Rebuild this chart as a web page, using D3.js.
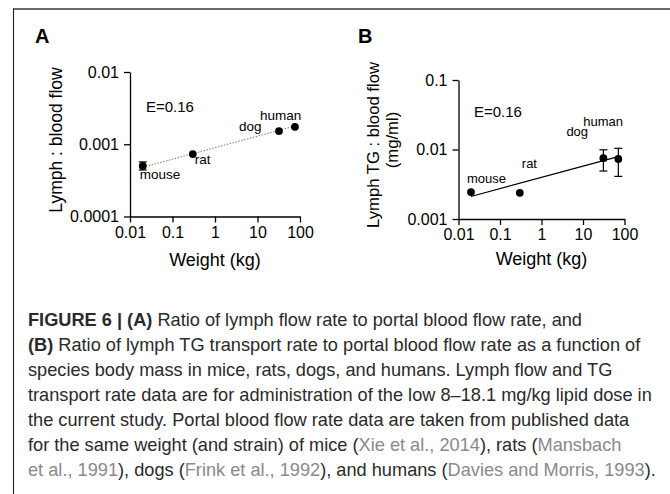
<!DOCTYPE html>
<html>
<head>
<meta charset="utf-8">
<script src="https://cdn.jsdelivr.net/npm/d3@7"></script>
<style>
  html, body { margin: 0; padding: 0; background: #fff; }
  svg { display: block; }
  text { font-family: "Liberation Sans", Arial, Helvetica, sans-serif; }
</style>
</head>
<body>
<svg id="chart" width="670" height="494"></svg>
<script>
// ---------- data ----------
const species = ["mouse", "rat", "dog", "human"];
const xTickValues = [0.01, 0.1, 1, 10, 100];
const xTickLabels = ["0.01", "0.1", "1", "10", "100"];

// Panel A
const weightA = [0.02, 0.3, 32, 76];
const ratioA = [0.0005, 0.00073, 0.00152, 0.00174];
const errLowA = [0.00044, null, null, null];
const errHighA = [0.00057, null, null, null];
const fitXA = [0.02, 76];
const fitYA = [0.00048, 0.00179];
const yTickValuesA = [0.0001, 0.001, 0.01];
const yTickLabelsA = ["0.0001", "0.001", "0.01"];

// Panel B
const weightB = [0.02, 0.3, 31, 71];
const ratioB = [0.00244, 0.00238, 0.0075, 0.0073];
const errLowB = [null, null, 0.0049, 0.0041];
const errHighB = [null, null, 0.0099, 0.0104];
const fitXB = [0.02, 71];
const fitYB = [0.00211, 0.0079];
const yTickValuesB = [0.001, 0.01, 0.1];
const yTickLabelsB = ["0.001", "0.01", "0.1"];

const exponentText = "E=0.16";

const captionLines = [
  [["FIGURE 6 | (A)", "b"], [" Ratio of lymph flow rate to portal blood flow rate, and", "n"]],
  [["(B)", "b"], [" Ratio of lymph TG transport rate to portal blood flow rate as a function of", "n"]],
  [["species body mass in mice, rats, dogs, and humans. Lymph flow and TG", "n"]],
  [["transport rate data are for administration of the low 8\u201318.1 mg/kg lipid dose in", "n"]],
  [["the current study. Portal blood flow rate data are taken from published data", "n"]],
  [["for the same weight (and strain) of mice (", "n"], ["Xie et al., 2014", "c"], ["), rats (", "n"], ["Mansbach", "c"]],
  [["et al., 1991", "c"], ["), dogs (", "n"], ["Frink et al., 1992", "c"], ["), and humans (", "n"], ["Davies and Morris, 1993", "c"], ([").", "n"])]
];

// ---------- drawing ----------
const svg = d3.select("#chart");

// frame
svg.append("line").attr("x1", 13).attr("x2", 670).attr("y1", 9).attr("y2", 9)
  .attr("stroke", "#3a3a3a").attr("stroke-width", 1.6);
svg.append("line").attr("x1", 13.5).attr("x2", 13.5).attr("y1", 8.5).attr("y2", 494)
  .attr("stroke", "#222").attr("stroke-width", 1.1);

function panel(cfg) {
  const g = svg.append("g");
  const x = d3.scaleLog().domain([0.01, 100]).range([cfg.x0, cfg.x1]);
  const y = d3.scaleLog().domain(cfg.yDomain).range([cfg.y0, cfg.y1]);

  const xAxis = d3.axisBottom(x).tickValues(xTickValues)
    .tickFormat((d, i) => xTickLabels[i]).tickSize(6).tickPadding(4).tickSizeOuter(0);
  const yAxis = d3.axisLeft(y).tickValues(cfg.yTicks)
    .tickFormat((d, i) => cfg.yLabels[i]).tickSize(6).tickPadding(5).tickSizeOuter(0);

  const gx = g.append("g").attr("transform", `translate(0,${cfg.y0})`).call(xAxis);
  const gy = g.append("g").attr("transform", `translate(${cfg.x0},0)`).call(yAxis);
  [gx, gy].forEach(a => {
    a.selectAll("path, line").attr("stroke", "#000").attr("stroke-width", 1.3);
    a.selectAll("text").attr("fill", "#000").style("font-size", "16px")
      .style("font-family", "'Liberation Sans', Arial, sans-serif");
  });

  // x title
  g.append("text").attr("x", (cfg.x0 + cfg.x1) / 2).attr("y", cfg.xTitleY)
    .attr("text-anchor", "middle").style("font-size", "18px").attr("fill", "#000")
    .text("Weight (kg)");

  // y title(s)
  cfg.yTitles.forEach(t => {
    g.append("text").attr("transform", `translate(${t.x},${t.y}) rotate(-90)`)
      .attr("text-anchor", "middle").style("font-size", t.size + "px").attr("fill", "#000")
      .text(t.text);
  });

  // panel letter
  g.append("text").attr("x", cfg.letterX).attr("y", 42.7)
    .style("font-size", "20px").style("font-weight", "bold").attr("fill", "#000").text(cfg.letter);

  // fit line
  g.append("line")
    .attr("x1", x(cfg.fitX[0])).attr("y1", y(cfg.fitY[0]))
    .attr("x2", x(cfg.fitX[1])).attr("y2", y(cfg.fitY[1]))
    .attr("stroke", cfg.fitColor).attr("stroke-width", cfg.fitWidth)
    .attr("stroke-dasharray", cfg.fitDash);

  // error bars
  cfg.w.forEach((w, i) => {
    if (cfg.lo[i] == null) return;
    const cx = x(w);
    g.append("line").attr("x1", cx).attr("x2", cx).attr("y1", y(cfg.lo[i])).attr("y2", y(cfg.hi[i]))
      .attr("stroke", "#000").attr("stroke-width", 1.2);
    [cfg.lo[i], cfg.hi[i]].forEach(v => {
      g.append("line").attr("x1", cx - 4).attr("x2", cx + 4).attr("y1", y(v)).attr("y2", y(v))
        .attr("stroke", "#000").attr("stroke-width", 1.2);
    });
  });

  // points
  g.selectAll("circle.pt").data(cfg.w).join("circle").attr("class", "pt")
    .attr("cx", d => x(d)).attr("cy", (d, i) => y(cfg.v[i])).attr("r", 3.9).attr("fill", "#000");

  // species labels
  species.forEach((s, i) => {
    const o = cfg.labelOffsets[i];
    g.append("text").attr("x", x(cfg.w[i]) + o[0]).attr("y", y(cfg.v[i]) + o[1])
      .style("font-size", cfg.labelSize + "px").attr("fill", "#000").text(s);
  });

  g.append("text").attr("x", cfg.eX).attr("y", cfg.eY)
    .style("font-size", "15px").attr("fill", "#000").text(exponentText);
}

panel({
  x0: 130, x1: 300, y0: 216.5, y1: 72, yDomain: [0.0001, 0.01],
  yTicks: yTickValuesA, yLabels: yTickLabelsA,
  w: weightA, v: ratioA, lo: errLowA, hi: errHighA,
  fitX: fitXA, fitY: fitYA, fitColor: "#777", fitWidth: 1, fitDash: "1.5,1.5",
  xTitleY: 266, letter: "A", letterX: 35,
  yTitles: [{ text: "Lymph : blood flow", x: 62, y: 140, size: 17.5 }],
  labelOffsets: [[-3, 13], [2, 9.5], [-40, 0], [-35, -7]], labelSize: 13.5,
  eX: 146, eY: 111.5
});

panel({
  x0: 458.5, x1: 624.5, y0: 219, y1: 80, yDomain: [0.001, 0.1],
  yTicks: yTickValuesB, yLabels: yTickLabelsB,
  w: weightB, v: ratioB, lo: errLowB, hi: errHighB,
  fitX: fitXB, fitY: fitYB, fitColor: "#000", fitWidth: 1.2, fitDash: null,
  xTitleY: 265, letter: "B", letterX: 358,
  yTitles: [{ text: "Lymph TG : blood flow", x: 379, y: 145, size: 16.7 },
            { text: "(mg/ml)", x: 398, y: 140, size: 16.7 }],
  labelOffsets: [[-4, -9], [2, -25], [-37, -22], [-35, -33]], labelSize: 13,
  eX: 474, eY: 117
});

// caption
const capY0 = 326, capStep = 25;
const cap = svg.append("text").attr("x", 28).attr("y", capY0)
  .style("font-size", "18.2px");
captionLines.forEach((line, li) => {
  line.forEach((seg, si) => {
    const t = cap.append("tspan").text(seg[0])
      .attr("fill", seg[1] === "c" ? "#8a8a8a" : "#2a2a2a")
      .style("font-weight", seg[1] === "b" ? "bold" : "normal");
    if (si === 0) t.attr("x", 28).attr("y", capY0 + li * capStep);
  });
});
</script>
</body>
</html>
